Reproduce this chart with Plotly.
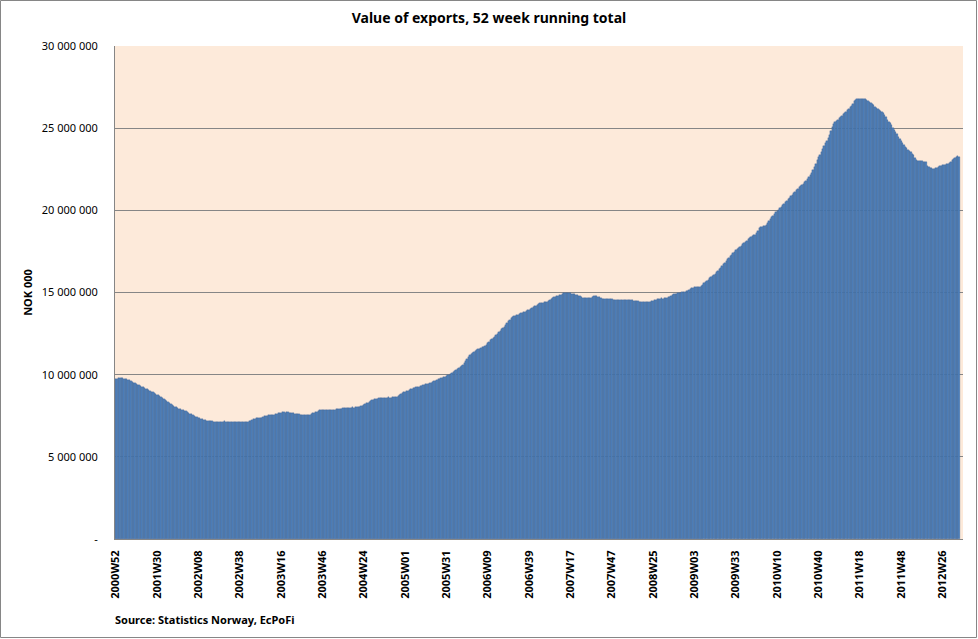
import plotly.graph_objects as go

# 52 week running total of export value, NOK 000, in millions (one value per week from 2000W52)
values = [
    9.74, 9.76, 9.78, 9.82, 9.82, 9.80, 9.76, 9.75, 9.74, 9.70,
    9.66, 9.62, 9.57, 9.52, 9.49, 9.45, 9.40, 9.35, 9.31, 9.26,
    9.23, 9.19, 9.15, 9.11, 9.06, 9.02, 8.97, 8.93, 8.88, 8.83,
    8.78, 8.74, 8.68, 8.63, 8.58, 8.52, 8.46, 8.40, 8.34, 8.28,
    8.23, 8.18, 8.12, 8.06, 8.01, 7.96, 7.92, 7.89, 7.87, 7.84,
    7.81, 7.78, 7.74, 7.69, 7.63, 7.58, 7.53, 7.49, 7.45, 7.42,
    7.39, 7.36, 7.32, 7.28, 7.25, 7.23, 7.21, 7.19, 7.18, 7.17,
    7.16, 7.15, 7.15, 7.15, 7.14, 7.15, 7.15, 7.15, 7.15, 7.16,
    7.15, 7.15, 7.15, 7.14, 7.15, 7.15, 7.15, 7.15, 7.14, 7.13,
    7.13, 7.14, 7.14, 7.14, 7.14, 7.14, 7.15, 7.16, 7.17, 7.24,
    7.30, 7.33, 7.35, 7.36, 7.37, 7.37, 7.38, 7.42, 7.47, 7.49,
    7.50, 7.52, 7.53, 7.53, 7.54, 7.55, 7.58, 7.63, 7.67, 7.69,
    7.69, 7.70, 7.70, 7.69, 7.70, 7.70, 7.69, 7.68, 7.66, 7.64,
    7.63, 7.62, 7.62, 7.60, 7.57, 7.54, 7.53, 7.53, 7.52, 7.53,
    7.54, 7.56, 7.60, 7.65, 7.69, 7.71, 7.74, 7.78, 7.82, 7.85,
    7.85, 7.86, 7.86, 7.85, 7.86, 7.87, 7.86, 7.86, 7.87, 7.88,
    7.90, 7.92, 7.93, 7.94, 7.94, 7.95, 7.96, 7.97, 7.98, 7.99,
    8.00, 8.00, 8.01, 8.00, 8.01, 8.02, 8.03, 8.05, 8.08, 8.12,
    8.16, 8.21, 8.26, 8.30, 8.34, 8.38, 8.43, 8.47, 8.50, 8.52,
    8.54, 8.56, 8.57, 8.59, 8.60, 8.61, 8.60, 8.61, 8.62, 8.61,
    8.61, 8.62, 8.63, 8.64, 8.66, 8.70, 8.76, 8.83, 8.88, 8.92,
    8.95, 8.98, 9.02, 9.06, 9.10, 9.13, 9.16, 9.19, 9.22, 9.25,
    9.28, 9.31, 9.34, 9.37, 9.40, 9.42, 9.44, 9.46, 9.49, 9.52,
    9.55, 9.59, 9.63, 9.67, 9.71, 9.75, 9.78, 9.81, 9.84, 9.88,
    9.92, 9.96, 10.00, 10.05, 10.10, 10.15, 10.20, 10.26, 10.32, 10.38,
    10.45, 10.52, 10.61, 10.72, 10.84, 10.96, 11.08, 11.18, 11.26, 11.33,
    11.40, 11.46, 11.51, 11.55, 11.58, 11.62, 11.66, 11.70, 11.74, 11.81,
    11.90, 11.99, 12.08, 12.16, 12.24, 12.31, 12.40, 12.49, 12.58, 12.67,
    12.76, 12.85, 12.93, 13.03, 13.14, 13.25, 13.35, 13.43, 13.49, 13.54,
    13.58, 13.62, 13.66, 13.70, 13.73, 13.77, 13.81, 13.84, 13.88, 13.92,
    13.96, 14.01, 14.06, 14.11, 14.16, 14.20, 14.25, 14.30, 14.34, 14.36,
    14.38, 14.40, 14.42, 14.45, 14.50, 14.55, 14.61, 14.66, 14.71, 14.75,
    14.78, 14.81, 14.83, 14.86, 14.90, 14.94, 14.97, 14.98, 14.97, 14.95,
    14.94, 14.92, 14.90, 14.88, 14.86, 14.83, 14.80, 14.76, 14.72, 14.68,
    14.66, 14.65, 14.64, 14.64, 14.65, 14.68, 14.72, 14.76, 14.78, 14.77,
    14.75, 14.70, 14.64, 14.61, 14.60, 14.60, 14.59, 14.58, 14.59, 14.60,
    14.58, 14.56, 14.55, 14.55, 14.56, 14.55, 14.54, 14.55, 14.56, 14.55,
    14.54, 14.55, 14.55, 14.54, 14.53, 14.52, 14.51, 14.50, 14.49, 14.47,
    14.45, 14.43, 14.42, 14.41, 14.40, 14.40, 14.41, 14.42, 14.43, 14.46,
    14.49, 14.53, 14.57, 14.60, 14.62, 14.63, 14.64, 14.63, 14.64, 14.65,
    14.67, 14.70, 14.75, 14.80, 14.85, 14.88, 14.90, 14.92, 14.95, 14.98,
    15.00, 15.02, 15.03, 15.05, 15.08, 15.12, 15.15, 15.20, 15.26, 15.30,
    15.32, 15.33, 15.33, 15.33, 15.34, 15.40, 15.47, 15.55, 15.63, 15.71,
    15.79, 15.86, 15.93, 16.00, 16.07, 16.15, 16.24, 16.33, 16.42, 16.52,
    16.62, 16.72, 16.82, 16.92, 17.02, 17.12, 17.21, 17.31, 17.40, 17.48,
    17.56, 17.63, 17.71, 17.79, 17.86, 17.93, 18.01, 18.09, 18.16, 18.23,
    18.30, 18.36, 18.42, 18.47, 18.52, 18.60, 18.75, 18.90, 18.96, 19.00,
    19.02, 19.05, 19.12, 19.23, 19.35, 19.46, 19.57, 19.68, 19.79, 19.88,
    19.96, 20.04, 20.13, 20.22, 20.31, 20.40, 20.49, 20.58, 20.67, 20.76,
    20.86, 20.95, 21.05, 21.14, 21.23, 21.31, 21.39, 21.46, 21.54, 21.62,
    21.71, 21.80, 21.90, 22.01, 22.14, 22.30, 22.48, 22.64, 22.85, 23.05,
    23.22, 23.39, 23.56, 23.75, 23.92, 24.08, 24.24, 24.40, 24.60, 24.85,
    25.10, 25.25, 25.36, 25.45, 25.52, 25.59, 25.66, 25.76, 25.84, 25.91,
    26.00, 26.08, 26.17, 26.27, 26.37, 26.48, 26.63, 26.73, 26.76, 26.78,
    26.79, 26.77, 26.78, 26.79, 26.75, 26.70, 26.64, 26.58, 26.52, 26.46,
    26.38, 26.30, 26.22, 26.15, 26.10, 26.05, 26.00, 25.90, 25.78, 25.65,
    25.52, 25.40, 25.29, 25.18, 25.04, 24.90, 24.76, 24.62, 24.48, 24.34,
    24.20, 24.08, 23.97, 23.87, 23.78, 23.69, 23.60, 23.52, 23.44, 23.35,
    23.20, 23.08, 23.02, 22.99, 22.98, 22.98, 22.97, 22.96, 22.95, 22.70,
    22.62, 22.60, 22.56, 22.52, 22.53, 22.57, 22.60, 22.64, 22.67, 22.70,
    22.74, 22.77, 22.78, 22.80, 22.85, 22.90, 22.97, 23.06, 23.12, 23.20,
    23.26, 23.28, 23.27,
]

# x tick labels, every 30th week
week_labels = [
    "2000W52", "2001W30", "2002W08", "2002W38", "2003W16", "2003W46",
    "2004W24", "2005W01", "2005W31", "2006W09", "2006W39", "2007W17",
    "2007W47", "2008W25", "2009W03", "2009W33", "2010W10", "2010W40",
    "2011W18", "2011W48", "2012W26",
]
y_ticks = [0, 5, 10, 15, 20, 25, 30]
y_tick_text = ["-", "5 000 000", "10 000 000", "15 000 000",
               "20 000 000", "25 000 000", "30 000 000"]

W, H = 978, 639
ml, mr, mt, mb = 115, 15, 46, 100
pw, ph = W - ml - mr, H - mt - mb

fig = go.Figure()
fig.add_trace(go.Bar(
    x=list(range(len(values))),
    y=values,
    marker=dict(color="#4F81BD", line=dict(color="#385D8A", width=0.3)),
    hoverinfo="y",
))

fig.update_layout(
    width=W, height=H,
    margin=dict(l=ml, r=mr, t=mt, b=mb, autoexpand=False),
    paper_bgcolor="white",
    plot_bgcolor="#FDEADA",
    bargap=0,
    showlegend=False,
    font=dict(family="Noto Sans, Arial, sans-serif", size=11, color="black"),
    title=dict(text="<b>Value of exports, 52 week running total</b>",
               x=0.5, xanchor="center", y=0.972, yanchor="middle",
               font=dict(size=14)),
)
fig.update_xaxes(
    range=[-0.5, 614.8],
    tickvals=list(range(0, 30 * len(week_labels), 30)),
    ticktext=["<b>%s</b>" % t for t in week_labels],
    tickangle=-90,
    showgrid=False,
    showline=True, linecolor="#868686", linewidth=1,
    ticks="", ticklabelstandoff=6,
    tickfont=dict(size=11),
)
fig.update_yaxes(
    range=[0, 30],
    tickvals=y_ticks,
    ticktext=y_tick_text,
    showgrid=True, gridcolor="#868686", gridwidth=1,
    showline=True, linecolor="#868686", linewidth=1,
    zeroline=False,
    ticks="", ticklabelstandoff=14,
    title=dict(text="<b>NOK 000</b>", font=dict(size=11), standoff=6),
)

fig.add_annotation(
    text="<b>Source: Statistics Norway, EcPoFi</b>",
    xref="paper", yref="paper", x=-2 / pw, y=(H - mb - 619) / ph,
    xanchor="left", yanchor="middle", showarrow=False,
    font=dict(size=11),
)

# outer chart border
fig.add_shape(
    type="rect", xref="paper", yref="paper",
    x0=(0.5 - ml) / pw, x1=(W - 1.5 - ml) / pw,
    y0=-(H - 1.5 - mt - ph) / ph, y1=(mt - 0.5) / ph + 1,
    line=dict(color="#868686", width=1), layer="below",
)

fig.write_html("out.html", config={"displayModeBar": False},
               post_script="document.body.style.margin='0';")
